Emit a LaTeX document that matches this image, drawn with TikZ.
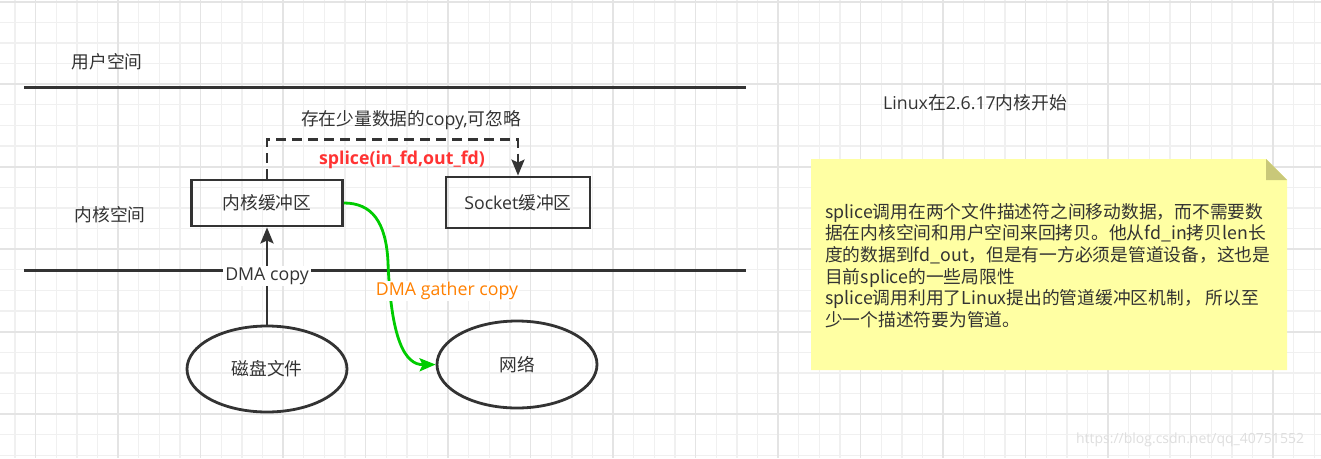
\documentclass[tikz,border=0pt]{standalone}
\usepackage{fontspec}
\setmainfont{Open Sans}
\newfontfamily\zhfont{Noto Sans CJK SC}
\newcommand\zh[1]{{\zhfont #1}}
\usetikzlibrary{arrows.meta,shapes.geometric}

\definecolor{linegray}{HTML}{333333}
\definecolor{spliceRed}{HTML}{FF3333}
\definecolor{gatherOrange}{HTML}{FF8000}
\definecolor{flowGreen}{HTML}{00CC00}
\definecolor{noteYellow}{HTML}{FFFFA3}
\definecolor{noteFold}{HTML}{C9C879}
\definecolor{gridMinor}{HTML}{F0F0F0}
\definecolor{gridMajor}{HTML}{E4E4E4}

\tikzset{
  txt/.style={text=linegray,font=\fontsize{17.75}{21}\selectfont,inner sep=2pt},
  bufbox/.style={txt,draw=linegray,line width=2.8pt,rectangle,inner sep=0pt},
  devell/.style={txt,draw=linegray,line width=2.8pt,ellipse,minimum width=160pt,minimum height=86pt,inner sep=0pt},
  layerline/.style={linegray,line width=3pt},
  flow/.style={draw=linegray,line width=2.8pt,-{Stealth[length=16pt,width=13pt,inset=3pt]}},
}

\begin{document}
\begin{tikzpicture}[x=1pt,y=-1pt]
    \useasboundingbox (0,0) rectangle (1321,458);
    \fill[white] (0,0) rectangle (1321,458);

    % 网格背景
    \foreach \i in {0,...,63}
        \draw[gridMinor,line width=1.3pt] ({15+20.625*\i},0) -- ++(0,458);
    \foreach \j in {0,...,22}
        \draw[gridMinor,line width=1.3pt] (0,{1.7+20.625*\j}) -- ++(1321,0);
    \foreach \i in {0,...,15}
        \draw[gridMajor,line width=1.6pt] ({35.6+82.5*\i},0) -- ++(0,458);
    \foreach \j in {0,...,5}
        \draw[gridMajor,line width=1.6pt] (0,{1.7+82.5*\j}) -- ++(1321,0);

    % 用户空间 / 内核空间 分界线
    \draw[layerline] (24,87) -- (746,87);
    \draw[layerline] (24,270) -- (746,270);
    \node[txt] (userlbl) at (107,62) {\zh{用户空间}};
    \node[txt] (kernlbl) at (110,215) {\zh{内核空间}};

    % 缓冲区
    \node[bufbox,minimum width=151pt,minimum height=46pt] (kbuf) at (267,203) {\zh{内核缓冲区}};
    \node[bufbox,minimum width=144pt,minimum height=51pt] (sbuf) at (518,202.5) {Socket\zh{缓冲区}};

    % 设备
    \node[devell] (disk) at (267,369) {\zh{磁盘文件}};
    \node[devell,minimum height=87pt] (net) at (517,364.5) {\zh{网络}};

    % 少量数据的copy (虚线)
    \draw[flow,dashed,dash pattern=on 10pt off 6pt] (kbuf.north) -- ++(0,-39) -| (sbuf.north);
    \node[txt] (smallcopy) at (411,120) {\zh{存在少量数据的}copy,\zh{可忽略}};
    \node[txt,text=spliceRed,font=\fontsize{17.75}{21}\selectfont\bfseries] (splice) at (402,160) {splice(in\_fd,out\_fd)};

    % DMA copy
    \draw[flow] (disk) -- (kbuf) node[txt,fill=white,pos=0.5] (dmalbl) {DMA copy};

    % DMA gather copy
    \draw[flowGreen,line width=2.8pt,-{Stealth[length=16pt,width=13pt,inset=3pt]}]
        (kbuf.east) .. controls (372,203) and (386,222) .. (388,262)
        .. controls (391,340) and (405,365) .. (net.west);
    \node[txt,text=gatherOrange,fill=white,inner sep=1pt] (gather) at (447,291) {DMA gather copy};

    % 说明
    \node[txt] (since) at (975,103) {Linux\zh{在}2.6.17\zh{内核开始}};
    \fill[noteYellow] (811,159) -- (1266,159) -- (1287,180) -- (1287,370) -- (811,370) -- cycle;
    \fill[noteFold] (1266,159) -- (1266,180) -- (1287,180) -- cycle;
    \node[txt,anchor=north west,align=left,inner sep=0pt,font=\zhfont\fontsize{17.75}{21.6}\selectfont] (notetext) at (825,203) {%
        splice调用在两个文件描述符之间移动数据，而不需要数\\
        据在内核空间和用户空间来回拷贝。他从fd\_in拷贝len长\\
        度的数据到fd\_out，但是有一方必须是管道设备，这也是\\
        目前splice的一些局限性\\
        splice调用利用了Linux提出的管道缓冲区机制， 所以至\\
        少一个描述符要为管道。};

    % 水印
    \node[text=black!13,font=\fontsize{14}{16}\selectfont] (mark) at (1190,440) {https://blog.csdn.net/qq\_40751552};
\end{tikzpicture}
\end{document}
